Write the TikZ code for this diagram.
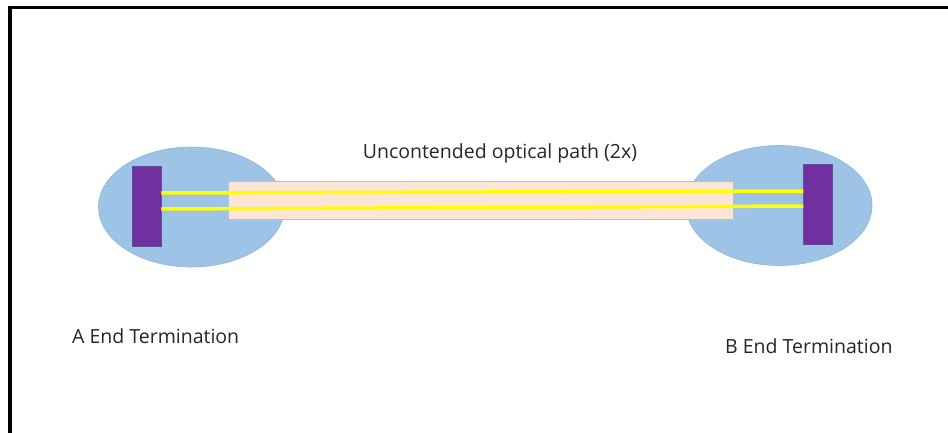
\documentclass[tikz,border=0pt]{standalone}
\usepackage{fontspec}
\setmainfont{Open Sans}
\usetikzlibrary{shapes.geometric}
\definecolor{ellfill}{HTML}{9DC3E6}
\definecolor{elldraw}{HTML}{8FB4DC}
\definecolor{purp}{HTML}{7030A0}
\definecolor{purpdraw}{HTML}{5E4E9A}
\definecolor{pinkfill}{HTML}{FBE5D6}
\definecolor{pinkdraw}{HTML}{B4C0D8}
\definecolor{fib}{HTML}{FFFF00}
\definecolor{txt}{HTML}{262626}
\tikzset{
  endell/.style={ellipse, fill=ellfill, draw=elldraw, line width=0.6pt, minimum width=186pt, minimum height=120pt, inner sep=0pt},
  termbox/.style={rectangle, fill=purp, draw=purpdraw, line width=0.5pt, minimum width=29pt, minimum height=80pt, inner sep=0pt},
  cablebox/.style={rectangle, fill=pinkfill, draw=pinkdraw, line width=0.8pt, minimum width=505pt, minimum height=38.5pt, inner sep=0pt},
  fiber/.style={draw=fib, line width=3.5pt},
  lbl/.style={text=txt, font=\fontsize{19.5}{23}\selectfont, inner sep=0pt},
  frame/.style={draw=black, line width=3.5pt}
}
\begin{document}
\begin{tikzpicture}[x=1pt,y=-1pt]
\useasboundingbox (0,0) rectangle (948,432);
\fill[white] (0,0) rectangle (948,432);
\coordinate (fbl) at (10,434);
\coordinate (ftl) at (10,7.5);
\coordinate (ftr) at (950,7.5);
\draw[frame] (fbl) -- (ftl) -- (ftr);
\node[endell] (ellA) at (191.5,207) {};
\node[endell] (ellB) at (779,205.5) {};
\node[cablebox] (cable) at (480.5,200.5) {};
\node[termbox] (purA) at (146.5,206.5) {};
\node[termbox] (purB) at (818,204.5) {};
\draw[fiber] ([yshift=13.5pt]purA.east) -- ([yshift=13.5pt]purB.west);
\draw[fiber] ([yshift=-2.5pt]purA.east) -- ([yshift=-1.5pt]purB.west);
\node[lbl, anchor=base] (title) at (500,158) {Uncontended optical path (2x)};
\node[lbl, anchor=base west] (labA) at (72,343) {A End Termination};
\node[lbl, anchor=base west] (labB) at (725,353) {B End Termination};
\end{tikzpicture}
\end{document}
